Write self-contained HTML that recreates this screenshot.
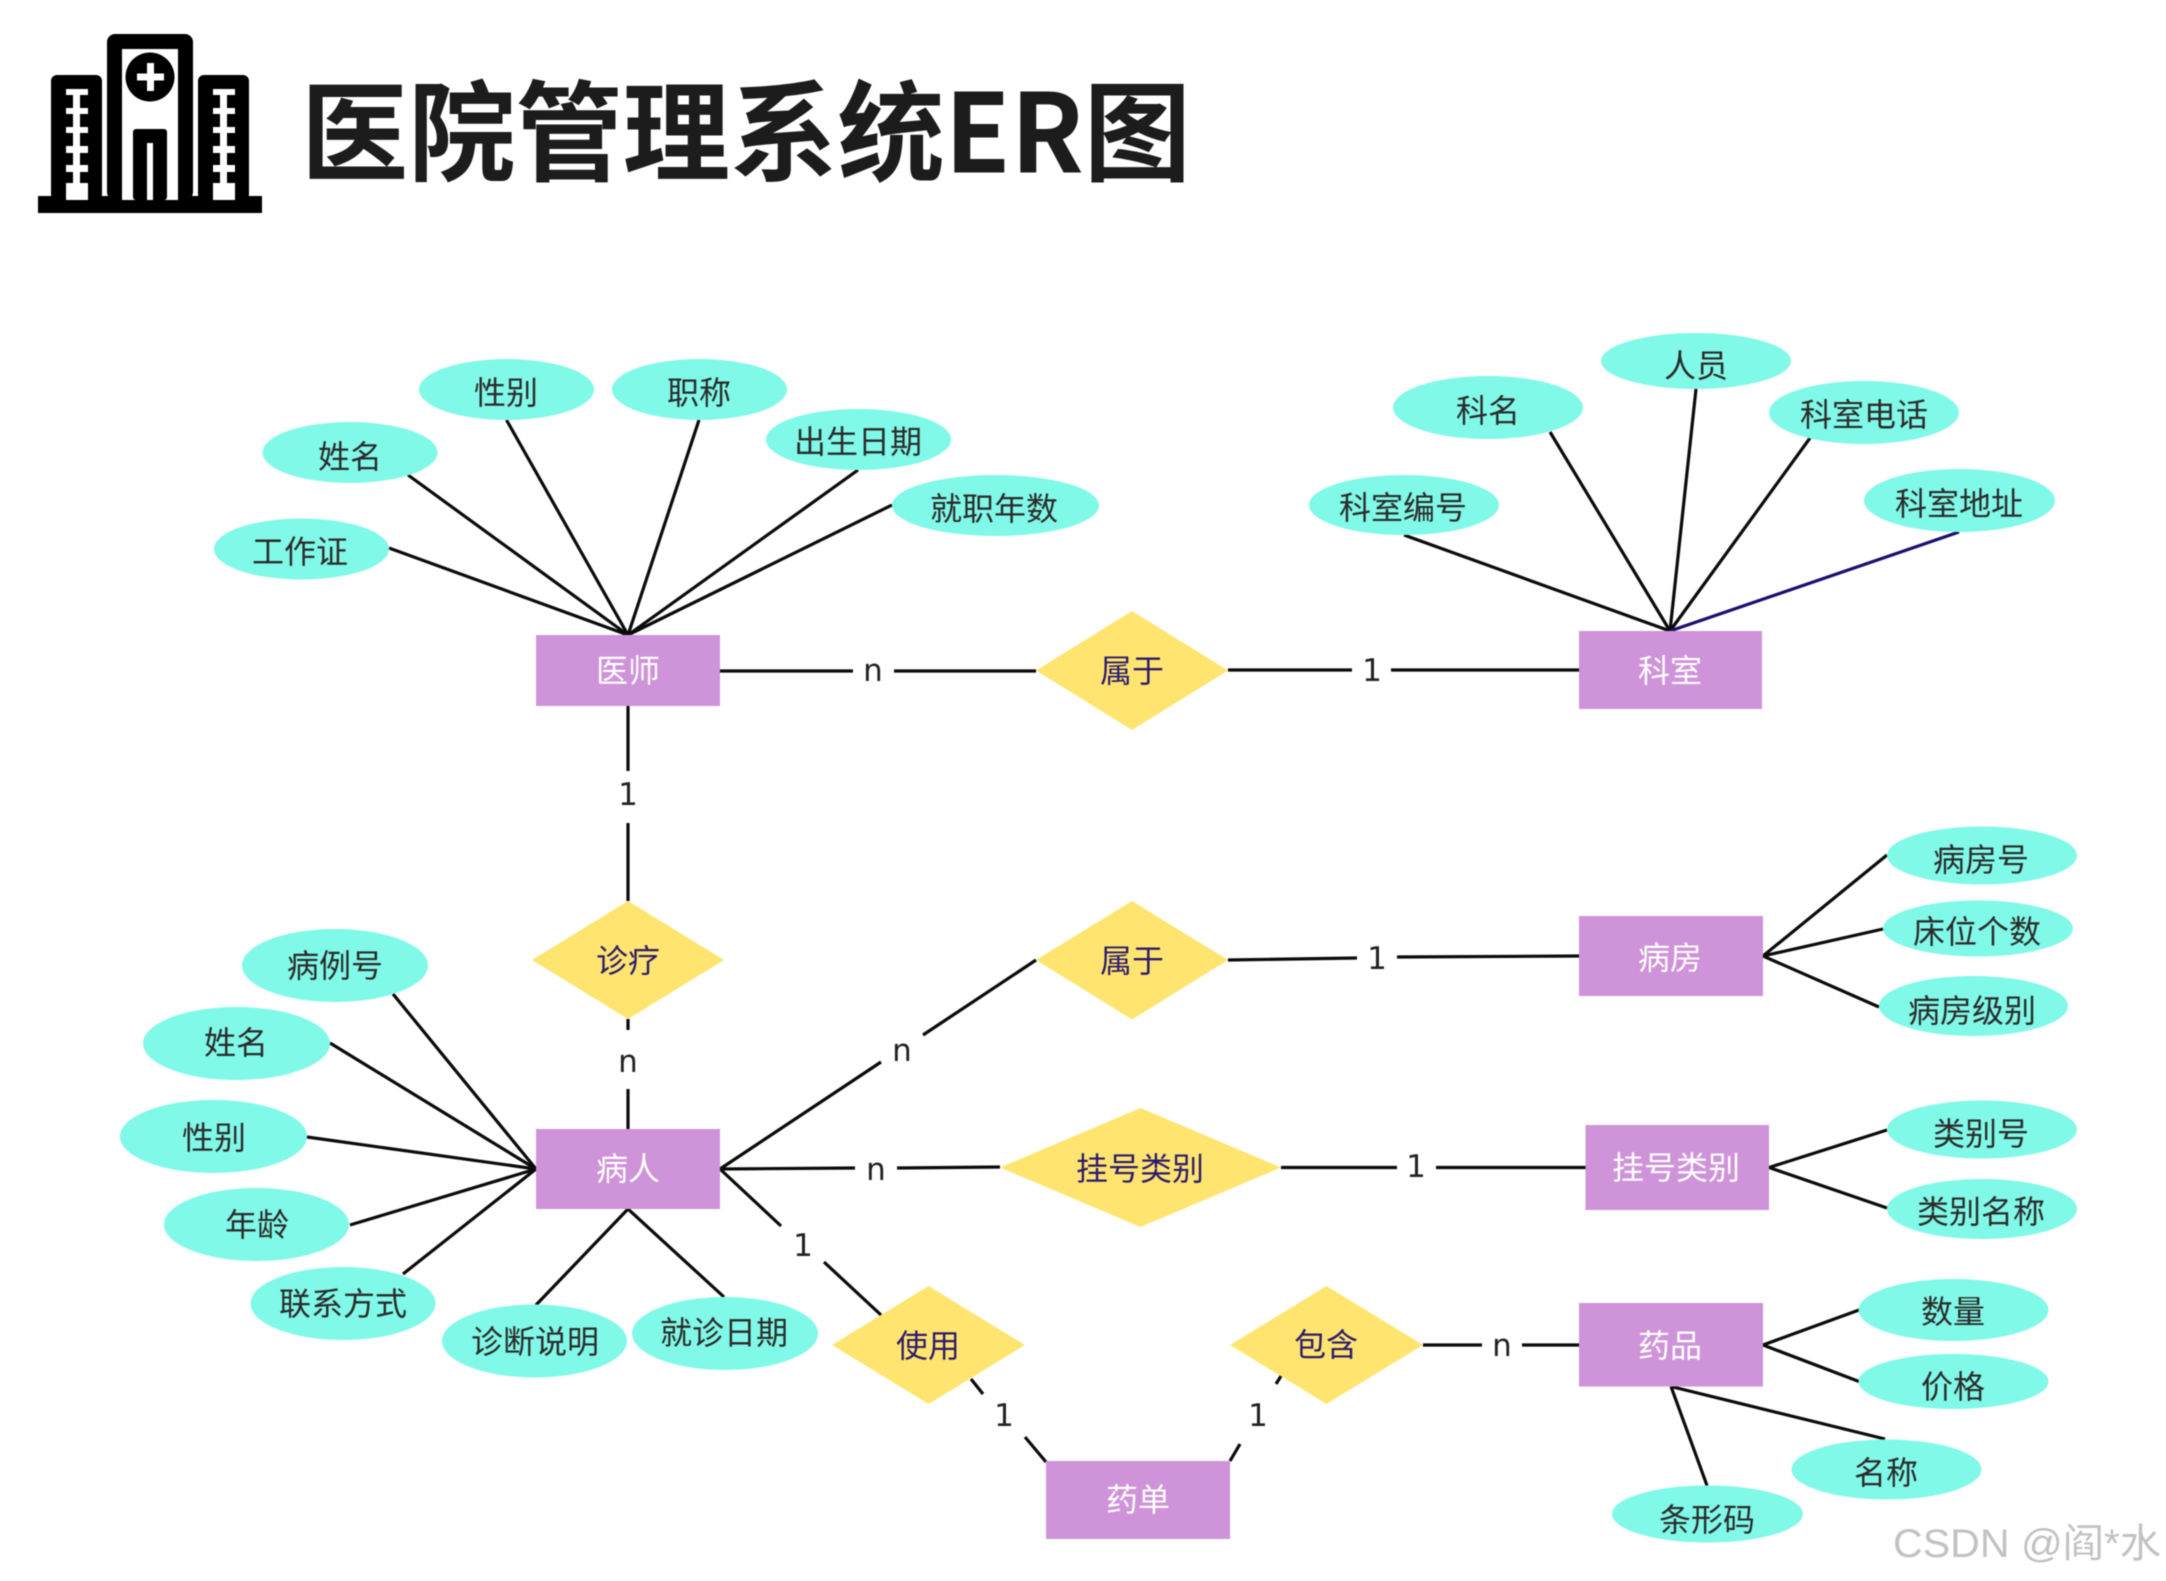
<!DOCTYPE html>
<html lang="zh"><head><meta charset="utf-8"><title>医院管理系统ER图</title>
<style>
html,body{margin:0;padding:0;background:#fff;width:2166px;height:1581px;overflow:hidden}
svg{display:block;filter:blur(0.5px)}
.l line{stroke:#0a0a0a;stroke-width:3.2;stroke-linecap:butt}
text{font-family:"Liberation Sans","Noto Sans CJK SC",sans-serif;text-anchor:middle;dominant-baseline:central}
.a text{font-size:32px;fill:#2b2b2b}
.a ellipse{fill:#80f9e8}
.e rect{fill:#ce93d8}
.e text{font-size:32px;fill:#fff}
.r polygon{fill:#ffe570}
.r text{font-size:32px;fill:#2c1c6c}
.c text{font-family:"DejaVu Sans",sans-serif;font-size:31px;fill:#222}
</style></head><body>
<svg width="2166" height="1581" viewBox="0 0 2166 1581" xmlns="http://www.w3.org/2000/svg">
<rect width="2166" height="1581" fill="#fff"/>
<!-- icon -->
<g>
<rect x="38" y="196" width="224" height="17" fill="#000"/>
<rect x="107" y="34" width="86" height="166" rx="8" fill="#000"/>
<rect x="122" y="49" width="56" height="151" fill="#fff"/>
<circle cx="150" cy="77" r="24.5" fill="#000"/>
<rect x="137" y="73.500" width="27" height="7" fill="#fff"/>
<rect x="147" y="63" width="7" height="28" fill="#fff"/>
<rect x="133" y="129" width="34" height="71" rx="3" fill="#000"/>
<rect x="147" y="143" width="6" height="57" fill="#fff"/>
<rect x="51" y="75" width="51" height="125" rx="6" fill="#000"/>
<rect x="198" y="75" width="51" height="125" rx="6" fill="#000"/>
<g fill="#fff">
<rect x="73" y="89" width="7" height="100"/>
<rect x="66" y="89" width="22" height="6"/><rect x="66" y="108" width="22" height="6"/><rect x="66" y="127" width="22" height="6"/><rect x="66" y="146" width="22" height="7"/><rect x="66" y="165" width="22" height="7"/><rect x="66" y="183" width="22" height="17"/>
<rect x="220" y="89" width="7" height="100"/>
<rect x="213" y="89" width="22" height="6"/><rect x="213" y="108" width="22" height="6"/><rect x="213" y="127" width="22" height="6"/><rect x="213" y="146" width="22" height="7"/><rect x="213" y="165" width="22" height="7"/><rect x="213" y="183" width="22" height="17"/>
</g>
</g>
<text x="746" y="126" font-size="109" font-weight="700" fill="#1c1c1c" textLength="890" lengthAdjust="spacingAndGlyphs" style="font-family:'Noto Sans CJK SC',sans-serif">医院管理系统ER图</text>

<!-- lines -->
<g class="l">
<line x1="389" y1="548" x2="628" y2="635"/>
<line x1="408" y1="475" x2="628" y2="635"/>
<line x1="506.500" y1="420" x2="628" y2="635"/>
<line x1="699" y1="420" x2="628" y2="635"/>
<line x1="858" y1="470" x2="628" y2="635"/>
<line x1="892" y1="505" x2="628" y2="635"/>
<line x1="720" y1="671" x2="853" y2="671"/><line x1="894" y1="671" x2="1036" y2="671"/>
<line x1="1228" y1="670" x2="1352" y2="670"/><line x1="1391" y1="670" x2="1579" y2="670"/>
<line x1="1404" y1="535" x2="1670" y2="631"/>
<line x1="1550" y1="432" x2="1670" y2="631"/>
<line x1="1696" y1="389" x2="1670" y2="631"/>
<line x1="1810" y1="438" x2="1670" y2="631"/>
<line x1="1959" y1="532" x2="1670" y2="631" style="stroke:#1a0f6e"/>
<line x1="628" y1="706" x2="628" y2="771"/><line x1="628" y1="823" x2="628" y2="901"/>
<line x1="628" y1="1019" x2="628" y2="1030"/><line x1="628" y1="1089" x2="628" y2="1129"/>
<line x1="393" y1="994" x2="536" y2="1169"/>
<line x1="330" y1="1043" x2="536" y2="1169"/>
<line x1="307" y1="1137" x2="536" y2="1169"/>
<line x1="350" y1="1225" x2="536" y2="1169"/>
<line x1="403" y1="1274" x2="536" y2="1169"/>
<line x1="536" y1="1305" x2="628" y2="1209"/>
<line x1="724" y1="1297" x2="628" y2="1209"/>
<line x1="720" y1="1169" x2="881" y2="1062"/><line x1="923" y1="1035" x2="1036" y2="960"/>
<line x1="720" y1="1169" x2="855" y2="1168"/><line x1="897" y1="1168" x2="1000" y2="1167"/>
<line x1="720" y1="1169" x2="781" y2="1226"/><line x1="824" y1="1262" x2="881" y2="1315"/>
<line x1="971" y1="1379" x2="983" y2="1394"/><line x1="1025" y1="1437" x2="1046" y2="1462"/>
<line x1="1281" y1="1376" x2="1276" y2="1384"/><line x1="1240" y1="1444" x2="1230" y2="1461"/>
<line x1="1228" y1="960" x2="1357" y2="958"/><line x1="1397" y1="957" x2="1579" y2="956"/>
<line x1="1763" y1="956" x2="1887" y2="855"/>
<line x1="1763" y1="956" x2="1883" y2="929"/>
<line x1="1763" y1="956" x2="1879" y2="1007"/>
<line x1="1281" y1="1167.500" x2="1397" y2="1167.500"/><line x1="1436" y1="1167.500" x2="1586" y2="1167.500"/>
<line x1="1769" y1="1167.500" x2="1887" y2="1130"/>
<line x1="1769" y1="1167.500" x2="1887" y2="1208"/>
<line x1="1423" y1="1345" x2="1482" y2="1345"/><line x1="1522" y1="1345" x2="1579" y2="1345"/>
<line x1="1763" y1="1345" x2="1859" y2="1310"/>
<line x1="1763" y1="1345" x2="1859" y2="1381.500"/>
<line x1="1671" y1="1386.500" x2="1885" y2="1439"/>
<line x1="1671" y1="1386.500" x2="1707" y2="1485.500"/>
</g>

<!-- cardinality -->
<g class="c">
<text x="873" y="671">n</text>
<text x="1372" y="671">1</text>
<text x="628" y="795">1</text>
<text x="628" y="1062">n</text>
<text x="902" y="1051">n</text>
<text x="876" y="1170">n</text>
<text x="803" y="1246">1</text>
<text x="1004" y="1416">1</text>
<text x="1258" y="1416">1</text>
<text x="1377" y="959">1</text>
<text x="1416" y="1167">1</text>
<text x="1502" y="1346">n</text>
</g>

<!-- attributes -->
<g class="a">
<ellipse cx="301.500" cy="549" rx="87.500" ry="30.500"/><text x="300" y="552">工作证</text>
<ellipse cx="350" cy="452.500" rx="87.500" ry="30.500"/><text x="350" y="457">姓名</text>
<ellipse cx="506.500" cy="389.500" rx="87.500" ry="30.500"/><text x="506" y="393">性别</text>
<ellipse cx="699.500" cy="389.500" rx="87.500" ry="30.500"/><text x="699" y="393">职称</text>
<ellipse cx="858.500" cy="439.500" rx="92.500" ry="30.500"/><text x="858" y="442">出生日期</text>
<ellipse cx="995.500" cy="505.500" rx="103.500" ry="30.500"/><text x="994" y="509">就职年数</text>
<ellipse cx="1404" cy="505" rx="95" ry="30"/><text x="1403" y="508">科室编号</text>
<ellipse cx="1488" cy="407.500" rx="95" ry="31.500"/><text x="1488" y="411">科名</text>
<ellipse cx="1696" cy="361" rx="95" ry="28"/><text x="1696" y="366">人员</text>
<ellipse cx="1864" cy="412.500" rx="95" ry="31.500"/><text x="1864" y="415">科室电话</text>
<ellipse cx="1959.500" cy="500.500" rx="95.500" ry="31.500"/><text x="1959" y="504">科室地址</text>
<ellipse cx="335" cy="965.500" rx="93" ry="36.500"/><text x="335" y="966">病例号</text>
<ellipse cx="236.500" cy="1043.500" rx="93.500" ry="36.500"/><text x="236" y="1043">姓名</text>
<ellipse cx="213.500" cy="1136.500" rx="93.500" ry="36.500"/><text x="214" y="1138">性别</text>
<ellipse cx="256.500" cy="1224.500" rx="92.500" ry="36.500"/><text x="257" y="1225">年龄</text>
<ellipse cx="343" cy="1303.500" rx="92.500" ry="36.500"/><text x="343" y="1304">联系方式</text>
<ellipse cx="534.500" cy="1341" rx="92.500" ry="36.500"/><text x="535" y="1342">诊断说明</text>
<ellipse cx="725" cy="1333.500" rx="93" ry="36.500"/><text x="724" y="1333">就诊日期</text>
<ellipse cx="1982" cy="855.500" rx="95" ry="29"/><text x="1981" y="860">病房号</text>
<ellipse cx="1978" cy="928.500" rx="95" ry="28"/><text x="1977" y="932">床位个数</text>
<ellipse cx="1973.500" cy="1006" rx="94.500" ry="30"/><text x="1972" y="1011">病房级别</text>
<ellipse cx="1982" cy="1129.500" rx="95" ry="29"/><text x="1981" y="1134">类别号</text>
<ellipse cx="1982" cy="1209" rx="95" ry="30"/><text x="1981" y="1212">类别名称</text>
<ellipse cx="1953.500" cy="1310" rx="95" ry="31"/><text x="1953" y="1312">数量</text>
<ellipse cx="1953.500" cy="1381.500" rx="95" ry="27.500"/><text x="1953" y="1387">价格</text>
<ellipse cx="1886.500" cy="1469.500" rx="95" ry="30"/><text x="1886" y="1473">名称</text>
<ellipse cx="1707.500" cy="1514" rx="95.500" ry="28.500"/><text x="1707" y="1520">条形码</text>
</g>

<!-- entities -->
<g class="e">
<rect x="536" y="635" width="184" height="71"/><text x="628" y="671">医师</text>
<rect x="1579" y="631" width="183" height="78"/><text x="1670" y="671">科室</text>
<rect x="536" y="1129" width="184" height="80"/><text x="628" y="1169">病人</text>
<rect x="1579" y="916" width="184" height="80"/><text x="1670" y="958">病房</text>
<rect x="1585.500" y="1125" width="183.500" height="85"/><text x="1676" y="1168">挂号类别</text>
<rect x="1579" y="1303" width="184" height="83.500"/><text x="1670" y="1346">药品</text>
<rect x="1046" y="1461" width="184" height="78"/><text x="1138" y="1500">药单</text>
</g>

<!-- relationships -->
<g class="r">
<polygon points="1036,670.500 1132,611 1228,670.500 1132,730"/><text x="1132" y="671">属于</text>
<polygon points="532,960 628,901 724,960 628,1019"/><text x="628" y="961">诊疗</text>
<polygon points="1036,960 1132,901 1228,960 1132,1019.500"/><text x="1132" y="961">属于</text>
<polygon points="1000,1167.500 1140.500,1108 1281,1167.500 1140.500,1227"/><text x="1140" y="1169">挂号类别</text>
<polygon points="832,1345 928.500,1286 1025,1345 928.500,1404"/><text x="928" y="1346">使用</text>
<polygon points="1230,1345 1326.500,1286 1423,1345 1326.500,1404"/><text x="1326" y="1345">包含</text>
</g>

<text x="2027" y="1544" font-size="40" fill="#c2c2c2" textLength="268" lengthAdjust="spacingAndGlyphs" style="font-family:'Liberation Sans','Noto Sans CJK SC',sans-serif">CSDN @阎*水</text>
</svg>
</body></html>
